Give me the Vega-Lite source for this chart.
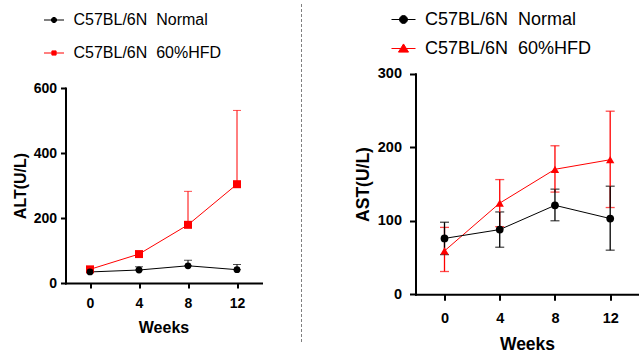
{
  "$schema": "https://vega.github.io/schema/vega-lite/v6.json",
  "padding": {"left": 11.5, "top": 3, "right": 0, "bottom": 0},
  "background": "white",
  "datasets": {
    "alt": [
      {"week": 0, "group": "C57BL/6N\u00a0 60%HFD", "mean": 42, "lo": 42, "hi": 47},
      {"week": 4, "group": "C57BL/6N\u00a0 60%HFD", "mean": 89, "lo": 89, "hi": 95},
      {"week": 8, "group": "C57BL/6N\u00a0 60%HFD", "mean": 179, "lo": 179, "hi": 282},
      {"week": 12, "group": "C57BL/6N\u00a0 60%HFD", "mean": 304, "lo": 304, "hi": 531},
      {"week": 0, "group": "C57BL/6N\u00a0 Normal", "mean": 34, "lo": 34, "hi": 38},
      {"week": 4, "group": "C57BL/6N\u00a0 Normal", "mean": 40, "lo": 40, "hi": 50},
      {"week": 8, "group": "C57BL/6N\u00a0 Normal", "mean": 53, "lo": 53, "hi": 70},
      {"week": 12, "group": "C57BL/6N\u00a0 Normal", "mean": 41, "lo": 41, "hi": 57}
    ],
    "ast": [
      {"week": 0, "group": "C57BL/6N\u00a0 60%HFD", "mean": 59, "lo": 31, "hi": 91},
      {"week": 4, "group": "C57BL/6N\u00a0 60%HFD", "mean": 124, "lo": 92, "hi": 156},
      {"week": 8, "group": "C57BL/6N\u00a0 60%HFD", "mean": 170, "lo": 139, "hi": 202},
      {"week": 12, "group": "C57BL/6N\u00a0 60%HFD", "mean": 183, "lo": 118, "hi": 249},
      {"week": 0, "group": "C57BL/6N\u00a0 Normal", "mean": 76, "lo": 54, "hi": 98},
      {"week": 4, "group": "C57BL/6N\u00a0 Normal", "mean": 88, "lo": 64, "hi": 112},
      {"week": 8, "group": "C57BL/6N\u00a0 Normal", "mean": 121, "lo": 100, "hi": 143},
      {"week": 12, "group": "C57BL/6N\u00a0 Normal", "mean": 103, "lo": 60, "hi": 147}
    ]
  },
  "config": {
    "view": {"stroke": null},
    "font": "Liberation Sans",
    "axis": {
      "grid": false, "domainColor": "black", "domainWidth": 2, "domainCap": "square",
      "tickColor": "black", "tickWidth": 2, "labelColor": "black", "titleColor": "black",
      "labelFont": "Liberation Sans", "titleFont": "Liberation Sans",
      "labelFontWeight": "bold", "titleFontWeight": "bold", "labelFlush": false
    }
  },
  "bounds": "flush",
  "spacing": 40,
  "resolve": {
    "scale": {"color": "independent", "shape": "independent", "fill": "independent", "stroke": "independent", "x": "independent", "y": "independent"},
    "legend": {"color": "independent", "shape": "independent", "fill": "independent", "stroke": "independent"}
  },
  "hconcat": [
    {
      "width": 196,
      "height": 338,
      "data": {"name": "alt"},
      "layer": [
        {
          "transform": [{"filter": "datum.week < -100"}],
          "mark": {"type": "point", "opacity": 1, "strokeWidth": 1},
          "encoding": {
            "x": {"field": "week", "type": "quantitative", "scale": {"domain": [-2, 14], "nice": false, "zero": false},
                  "axis": {"values": [0, 4, 8, 12], "title": "Weeks", "offset": -59, "tickSize": 5, "labelPadding": 8, "labelFontSize": 14, "titleFontSize": 16, "titlePadding": 9}},
            "y": {"field": "mean", "type": "quantitative", "title": "ALT(U/L)", "scale": {"domain": [0, 600], "range": [279, 84], "nice": false, "zero": false},
                  "axis": {"values": [0, 200, 400, 600], "title": "ALT(U/L)", "tickSize": 5, "labelPadding": 4, "labelFontSize": 14, "titleFontSize": 16, "titlePadding": 5}},
            "shape": {"field": "group", "type": "nominal",
                      "scale": {"domain": ["C57BL/6N\u00a0 Normal", "C57BL/6N\u00a0 60%HFD"],
                                "range": ["M-1,0H1M-0.26,0A0.26,0.26,0,1,1,0.26,0A0.26,0.26,0,1,1,-0.26,0Z", "M-1,0H1M-0.21,-0.21H0.21V0.21H-0.21Z"]},
                      "legend": {"orient": "none", "legendX": -22, "legendY": 5.5, "title": null, "padding": 0,
                                 "symbolSize": 400, "symbolStrokeWidth": 1, "symbolOpacity": 1,
                                 "labelFont": "Liberation Sans", "labelFontSize": 16, "labelColor": "black",
                                 "labelOffset": 9, "rowPadding": 14, "labelLimit": 300}},
            "fill": {"field": "group", "type": "nominal",
                     "scale": {"domain": ["C57BL/6N\u00a0 Normal", "C57BL/6N\u00a0 60%HFD"], "range": ["#000000", "#ff0000"]},
                     "legend": {"orient": "none", "legendX": -22, "legendY": 5.5, "title": null}},
            "stroke": {"field": "group", "type": "nominal",
                       "scale": {"domain": ["C57BL/6N\u00a0 Normal", "C57BL/6N\u00a0 60%HFD"], "range": ["#000000", "#ff0000"]},
                       "legend": {"orient": "none", "legendX": -22, "legendY": 5.5, "title": null}}
          }
        },
        {
          "mark": {"type": "line", "strokeWidth": 1},
          "encoding": {
            "x": {"field": "week", "type": "quantitative", "title": "Weeks"},
            "y": {"field": "mean", "type": "quantitative", "title": "ALT(U/L)"},
            "color": {"field": "group", "type": "nominal", "legend": null,
                      "scale": {"domain": ["C57BL/6N\u00a0 Normal", "C57BL/6N\u00a0 60%HFD"], "range": ["#000000", "#ff0000"]}}
          }
        },
        {
          "mark": {"type": "errorbar", "ticks": {"size": 8, "thickness": 1}, "rule": {"strokeWidth": 1}},
          "encoding": {
            "x": {"field": "week", "type": "quantitative", "title": "Weeks"},
            "y": {"field": "lo", "type": "quantitative", "title": "ALT(U/L)"},
            "y2": {"field": "hi"},
            "color": {"field": "group", "type": "nominal", "legend": null}
          }
        },
        {
          "transform": [{"filter": "indexof(datum.group, 'HFD') >= 0"}],
          "mark": {"type": "point", "filled": true, "opacity": 1, "size": 64, "strokeWidth": 0, "shape": "square"},
          "encoding": {
            "x": {"field": "week", "type": "quantitative", "title": "Weeks"},
            "y": {"field": "mean", "type": "quantitative", "title": "ALT(U/L)"},
            "color": {"field": "group", "type": "nominal", "legend": null}
          }
        },
        {
          "transform": [{"filter": "indexof(datum.group, 'Normal') >= 0"}],
          "mark": {"type": "point", "filled": true, "opacity": 1, "size": 46, "strokeWidth": 0, "shape": "circle"},
          "encoding": {
            "x": {"field": "week", "type": "quantitative", "title": "Weeks"},
            "y": {"field": "mean", "type": "quantitative", "title": "ALT(U/L)"},
            "color": {"field": "group", "type": "nominal", "legend": null}
          }
        }
      ]
    },
    {
      "width": 73.5,
      "height": 338,
      "data": {"values": [{}]},
      "mark": {"type": "rule", "stroke": "#808080", "strokeDash": [3, 2], "strokeWidth": 1},
      "encoding": {
        "x": {"datum": 0, "type": "quantitative", "scale": {"domain": [0, 1]}, "axis": null}
      }
    },
    {
      "width": 223,
      "height": 338,
      "data": {"name": "ast"},
      "layer": [
        {
          "mark": {"type": "point", "opacity": 1, "strokeWidth": 1, "size": 0},
          "encoding": {
            "x": {"field": "week", "type": "quantitative", "scale": {"domain": [-2.1, 14.05], "nice": false, "zero": false},
                  "axis": {"values": [0, 4, 8, 12], "title": "Weeks", "offset": -47.7, "tickSize": 6, "labelPadding": 11, "labelFontSize": 14.5, "titleFontSize": 17.5, "titlePadding": 11}},
            "y": {"field": "mean", "type": "quantitative", "title": "AST(U/L)", "scale": {"domain": [0, 300], "range": [290.3, 69.7], "nice": false, "zero": false},
                  "axis": {"values": [0, 100, 200, 300], "title": "AST(U/L)", "tickSize": 6, "labelPadding": 8, "labelFontSize": 14.5, "titleFontSize": 17.5, "titlePadding": 5}},
            "shape": {"field": "group", "type": "nominal",
                      "scale": {"domain": ["C57BL/6N\u00a0 Normal", "C57BL/6N\u00a0 60%HFD"],
                                "range": ["M-1,0H1M-0.33,0A0.33,0.33,0,1,1,0.33,0A0.33,0.33,0,1,1,-0.33,0Z", "M-1,0H1M0,-0.38L0.42,0.3H-0.42Z"]},
                      "legend": {"orient": "none", "legendX": -24.5, "legendY": 3, "title": null, "padding": 0,
                                 "symbolSize": 576, "symbolStrokeWidth": 1, "symbolOpacity": 1,
                                 "labelFont": "Liberation Sans", "labelFontSize": 18, "labelColor": "black",
                                 "labelOffset": 9, "rowPadding": 7, "labelLimit": 300}},
            "fill": {"field": "group", "type": "nominal",
                     "scale": {"domain": ["C57BL/6N\u00a0 Normal", "C57BL/6N\u00a0 60%HFD"], "range": ["#000000", "#ff0000"]},
                     "legend": {"orient": "none", "legendX": -24.5, "legendY": 3, "title": null}},
            "stroke": {"field": "group", "type": "nominal",
                       "scale": {"domain": ["C57BL/6N\u00a0 Normal", "C57BL/6N\u00a0 60%HFD"], "range": ["#000000", "#ff0000"]},
                       "legend": {"orient": "none", "legendX": -24.5, "legendY": 3, "title": null}}
          }
        },
        {
          "mark": {"type": "line", "strokeWidth": 1},
          "encoding": {
            "x": {"field": "week", "type": "quantitative", "title": "Weeks"},
            "y": {"field": "mean", "type": "quantitative", "title": "AST(U/L)"},
            "color": {"field": "group", "type": "nominal", "legend": null,
                      "scale": {"domain": ["C57BL/6N\u00a0 Normal", "C57BL/6N\u00a0 60%HFD"], "range": ["#000000", "#ff0000"]}}
          }
        },
        {
          "mark": {"type": "errorbar", "ticks": {"size": 9, "thickness": 1.3}, "rule": {"strokeWidth": 1.3}},
          "encoding": {
            "x": {"field": "week", "type": "quantitative", "title": "Weeks"},
            "y": {"field": "lo", "type": "quantitative", "title": "AST(U/L)"},
            "y2": {"field": "hi"},
            "color": {"field": "group", "type": "nominal", "legend": null}
          }
        },
        {
          "transform": [{"filter": "indexof(datum.group, 'HFD') >= 0"}],
          "mark": {"type": "point", "filled": true, "opacity": 1, "size": 70, "strokeWidth": 0, "shape": "triangle-up"},
          "encoding": {
            "x": {"field": "week", "type": "quantitative", "title": "Weeks"},
            "y": {"field": "mean", "type": "quantitative", "title": "AST(U/L)"},
            "color": {"field": "group", "type": "nominal", "legend": null}
          }
        },
        {
          "transform": [{"filter": "indexof(datum.group, 'Normal') >= 0"}],
          "mark": {"type": "point", "filled": true, "opacity": 1, "size": 60, "strokeWidth": 0, "shape": "circle"},
          "encoding": {
            "x": {"field": "week", "type": "quantitative", "title": "Weeks"},
            "y": {"field": "mean", "type": "quantitative", "title": "AST(U/L)"},
            "color": {"field": "group", "type": "nominal", "legend": null}
          }
        }
      ]
    }
  ]
}
